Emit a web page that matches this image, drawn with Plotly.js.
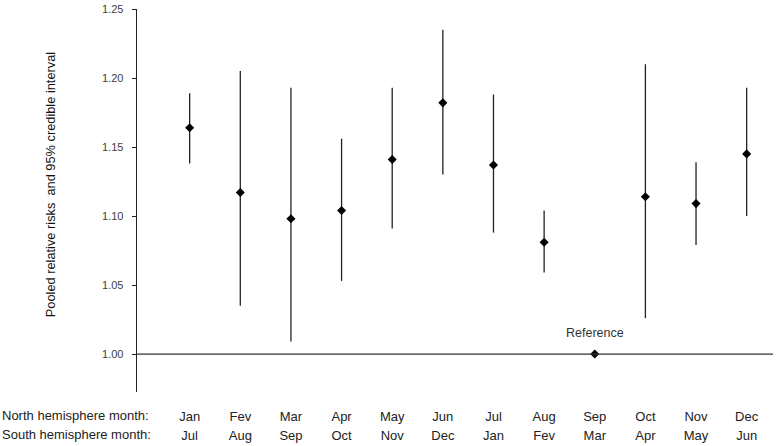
<!DOCTYPE html>
<html>
<head>
<meta charset="utf-8">
<script src="https://cdn.plot.ly/plotly-3.0.1.min.js"></script>
<style>html,body{margin:0;padding:0;background:#fff;}#chart{width:780px;height:446px;}</style>
</head>
<body>
<div id="chart"></div>
<script>
const northMonths = ["Jan","Fev","Mar","Apr","May","Jun","Jul","Aug","Sep","Oct","Nov","Dec"];
const southMonths = ["Jul","Aug","Sep","Oct","Nov","Dec","Jan","Fev","Mar","Apr","May","Jun"];
const rr    = [1.164, 1.117, 1.098, 1.104, 1.141, 1.182, 1.137, 1.081, 1.000, 1.114, 1.109, 1.145];
const upper = [1.189, 1.205, 1.193, 1.156, 1.193, 1.235, 1.188, 1.104, 1.000, 1.210, 1.139, 1.193];
const lower = [1.138, 1.035, 1.009, 1.053, 1.091, 1.130, 1.088, 1.059, 1.000, 1.026, 1.079, 1.100];
const yTicks = [1.00, 1.05, 1.10, 1.15, 1.20, 1.25];
const yTitle = "Pooled relative risks  and 95% credible interval";
const referenceLabel = "Reference";
const referenceIndex = northMonths.indexOf("Sep");

const idx = northMonths.map((_, i) => i);
const errPlus = upper.map((u, i) => u - rr[i]);
const errMinus = lower.map((l, i) => rr[i] - l);

const trace = {
  x: idx,
  y: rr,
  type: "scatter",
  mode: "markers",
  marker: {symbol: "diamond", size: 7, color: "#000"},
  error_y: {type: "data", symmetric: false, array: errPlus, arrayminus: errMinus,
            width: 0, thickness: 1.3, color: "#222"},
  hoverinfo: "x+y"
};
// invisible trace to carry the second (south hemisphere) label axis
const trace2 = {x: idx, y: rr, xaxis: "x2", yaxis: "y", type: "scatter", mode: "markers",
  marker: {opacity: 0}, hoverinfo: "skip"};

const monthFont = {size: 13, color: "#222"};
const layout = {
  width: 780, height: 446,
  margin: {l: 137, r: 7, t: 9, b: 54},
  paper_bgcolor: "#fff", plot_bgcolor: "#fff",
  showlegend: false,
  font: {family: "Liberation Sans, Arial, sans-serif", color: "#222"},
  xaxis: {
    range: [-1.04, 11.52],
    tickvals: idx, ticktext: northMonths,
    showgrid: false, zeroline: false, showline: false,
    ticks: "", tickfont: monthFont,
    ticklabelstandoff: 15
  },
  xaxis2: {
    overlaying: "x", matches: "x", anchor: "y", side: "bottom",
    range: [-1.04, 11.52],
    tickvals: idx, ticktext: southMonths,
    showgrid: false, zeroline: false, showline: false,
    ticks: "", tickfont: monthFont,
    ticklabelstandoff: 34
  },
  yaxis: {
    range: [0.9725, 1.25],
    tickvals: yTicks,
    ticktext: yTicks.map(v => v.toFixed(2)),
    showgrid: false, zeroline: false,
    showline: true, linecolor: "#222", linewidth: 1.3,
    ticks: "outside", ticklen: 4, tickcolor: "#222", tickwidth: 1,
    tickfont: {size: 11, color: "#404040"},
    ticklabelstandoff: 6
  },
  shapes: [{type: "line", xref: "paper", yref: "y", x0: 0, x1: 1, y0: 1, y1: 1,
            line: {color: "#333", width: 1.3}}],
  annotations: [
    {x: -87/636, y: 0.54, xref: "paper", yref: "paper", xanchor: "center", yanchor: "middle",
     text: yTitle, textangle: -90, showarrow: false, font: {size: 12.8, color: "#111"}},
    {x: referenceIndex, y: 1.0, xref: "x", yref: "y", text: referenceLabel, showarrow: false,
     yshift: 21, font: {size: 12.5, color: "#333"}},
    {x: -137/636, y: -0.062, xref: "paper", yref: "paper", xanchor: "left", yanchor: "middle",
     text: "North hemisphere month:", showarrow: false, font: {size: 13, color: "#222"}},
    {x: -137/636, y: -0.112, xref: "paper", yref: "paper", xanchor: "left", yanchor: "middle",
     text: "South hemisphere month:", showarrow: false, font: {size: 13, color: "#222"}}
  ]
};

Plotly.newPlot("chart", [trace, trace2], layout, {displayModeBar: false, staticPlot: true});
</script>
</body>
</html>
